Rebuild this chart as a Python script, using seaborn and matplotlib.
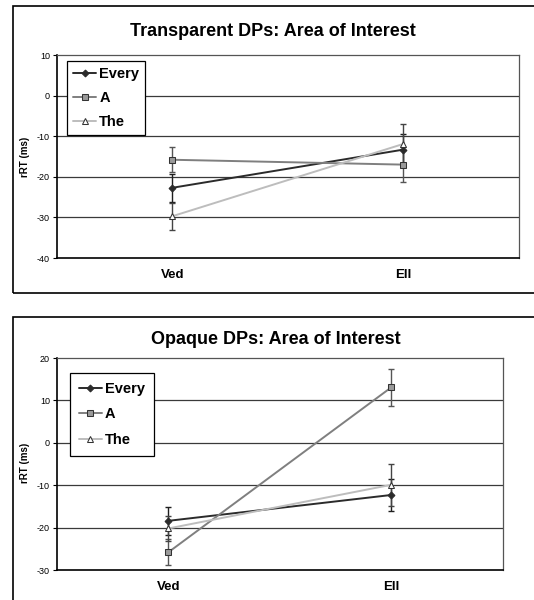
import matplotlib.pyplot as plt
import matplotlib.patches as patches
import seaborn as sns
import numpy as np

# --- DATA ---
conditions = ["Ved", "Ell"]
series_names = ["Every", "A", "The"]

transparent_every = [-22.7, -13.3]
transparent_a = [-15.8, -17.0]
transparent_the = [-29.7, -11.9]
transparent_every_err = [3.5, 3.8]
transparent_a_err = [3.1, 4.4]
transparent_the_err = [3.3, 5.0]

opaque_every = [-18.4, -12.3]
opaque_a = [-25.8, 13.1]
opaque_the = [-20.2, -9.9]
opaque_every_err = [3.3, 3.8]
opaque_a_err = [3.0, 4.4]
opaque_the_err = [3.0, 4.9]

transparent_ticks = [10, 0, -10, -20, -30, -40]
opaque_ticks = [20, 10, 0, -10, -20, -30]

# --- STYLE ---
line_colors = {"Every": "#2b2b2b", "A": "#7f7f7f", "The": "#bdbdbd"}
err_colors = {"Every": "#1e1e1e", "A": "#555555", "The": "#444444"}
marker_style = {
    "Every": dict(marker="D", markersize=3.5, markerfacecolor="#2b2b2b", markeredgecolor="#2b2b2b"),
    "A": dict(marker="s", markersize=5, markerfacecolor="#9a9a9a", markeredgecolor="#333333"),
    "The": dict(marker="^", markersize=5, markerfacecolor="white", markeredgecolor="#333333"),
}

sns.set_style("white")
plt.rcParams['font.family'] = ['Liberation Sans', 'DejaVu Sans']
plt.rcParams['text.color'] = 'black'
plt.rcParams['xtick.color'] = 'black'
plt.rcParams['ytick.color'] = 'black'


def draw_panel(ax, values, errors, ticks, legend_anchor, legend_pad):
    x = np.arange(len(conditions))
    for name in series_names:
        sns.lineplot(x=x, y=values[name], ax=ax, color=line_colors[name], linewidth=1.4,
                     label=name, **marker_style[name])
        ax.errorbar(x, values[name], yerr=errors[name], fmt="none", ecolor=err_colors[name],
                    elinewidth=1.0, capsize=2, capthick=1.0, zorder=1)
    ax.set_xlim(-0.5, 1.5)
    ax.set_ylim(min(ticks), max(ticks))
    ax.set_yticks(ticks)
    ax.set_yticklabels([str(t) for t in ticks], fontsize=6.5)
    ax.set_xticks(x)
    ax.set_xticklabels(conditions, fontsize=9.5, fontweight="bold")
    ax.tick_params(axis="x", length=0, pad=8)
    ax.tick_params(axis="y", length=3, width=0.8, pad=2, left=True, direction="out")
    for t in ticks:
        if t != min(ticks) and t != max(ticks):
            ax.axhline(t, color="#3a3a3a", linewidth=0.9, zorder=0)
    for side in ["left", "bottom"]:
        ax.spines[side].set_color("black")
        ax.spines[side].set_linewidth(1.2)
    for side in ["top", "right"]:
        ax.spines[side].set_color("#555555")
        ax.spines[side].set_linewidth(0.9)
    leg = ax.legend(loc="upper left", bbox_to_anchor=legend_anchor, borderaxespad=0,
                    frameon=True, fancybox=False, edgecolor="black", framealpha=1,
                    prop={"size": 10.5, "weight": "bold"}, handlelength=1.6,
                    handletextpad=0.2, labelspacing=legend_pad[0], borderpad=legend_pad[1])
    leg.get_frame().set_linewidth(0.9)


fig = plt.figure(figsize=(5.34, 6), dpi=100)

ax1 = fig.add_axes([0.1067, 0.57, 0.865, 0.3383])
draw_panel(ax1,
           {"Every": transparent_every, "A": transparent_a, "The": transparent_the},
           {"Every": transparent_every_err, "A": transparent_a_err, "The": transparent_the_err},
           transparent_ticks, (0.022, 0.97), (0.7, 0.4))

ax2 = fig.add_axes([0.1067, 0.05, 0.835, 0.3533])
draw_panel(ax2,
           {"Every": opaque_every, "A": opaque_a, "The": opaque_the},
           {"Every": opaque_every_err, "A": opaque_a_err, "The": opaque_the_err},
           opaque_ticks, (0.029, 0.929), (0.8, 0.6))

# titles and y labels
fig.text(0.511, 0.947, "Transparent DPs: Area of Interest", ha="center", va="center",
         fontsize=13, fontweight="bold")
fig.text(0.517, 0.435, "Opaque DPs: Area of Interest", ha="center", va="center",
         fontsize=13, fontweight="bold")
fig.text(0.047, 0.738, "rRT (ms)", rotation=90, ha="center", va="center",
         fontsize=7, fontweight="bold")
fig.text(0.047, 0.228, "rRT (ms)", rotation=90, ha="center", va="center",
         fontsize=7, fontweight="bold")

# outer chart frames
fig.patches.append(patches.Rectangle((0.0243, 0.5117), 1.0, 0.4783, transform=fig.transFigure,
                                     fill=False, edgecolor="black", linewidth=1.2))
fig.patches.append(patches.Rectangle((0.0243, -0.01), 1.0, 0.4817, transform=fig.transFigure,
                                     fill=False, edgecolor="black", linewidth=1.2))

plt.savefig("out.png", dpi=100)
plt.close()
